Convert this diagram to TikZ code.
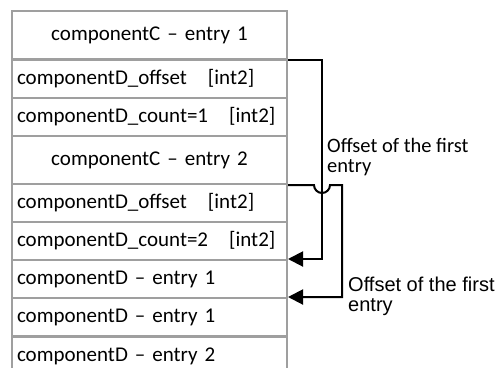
\documentclass[tikz,border=0pt]{standalone}
\usepackage{fontspec}
\setmainfont{Carlito}
\newfontfamily\arialfont{Liberation Sans}
\usetikzlibrary{arrows.meta}

\begin{document}
\begin{tikzpicture}[x=1bp,y=-1bp,
    font=\fontsize{21bp}{21bp}\selectfont,
    cell/.style={draw=gray!75, line width=2bp, anchor=north west,
        minimum width=275bp, inner xsep=5bp, text width=265bp},
    rowleft/.style={cell, align=left, minimum height=38bp},
    rowmid/.style={cell, align=center, minimum height=48bp},
    link/.style={line width=2bp, -{Triangle[length=15bp,width=15bp]}},
    note/.style={anchor=west, align=left, inner sep=0pt}]
\clip (0,0) rectangle (501,367);
\fill[white] (0,0) rectangle (501,367);

% Table rows
\node[rowmid] (c1) at (11,10) {componentC -- entry 1};
\node[rowleft] (c1off) at (11,59) {componentD\_offset\ \ \ [int2]};
\node[rowleft] (c1cnt) at (11,97) {componentD\_count=1\ \ \ [int2]};
\node[rowmid] (c2) at (11,135) {componentC -- entry 2};
\node[rowleft] (c2off) at (11,183) {componentD\_offset\ \ \ [int2]};
\node[rowleft] (c2cnt) at (11,221) {componentD\_count=2\ \ \ [int2]};
\node[rowleft] (d1) at (11,259) {componentD -- entry 1};
\node[rowleft] (d2) at (11,297) {componentD -- entry 1};
\node[rowleft] (d3) at (11,336) {componentD -- entry 2};

% Labels
\node[note, font=\fontsize{20.5bp}{20bp}\selectfont] (lbl1) at (327,157) {Offset of the first\\entry};
\node[note, font=\arialfont\fontsize{20bp}{20bp}\selectfont] (lbl2) at (348,296) {Offset of the first\\entry};

% Offsets
\draw[link] (c1.south east) -- ++(34,0) |- (d1.north east);
\draw[link] (c2.south east) -- ++(26,0) arc[start angle=180,end angle=0,radius=8]
    -- ++(12,0) |- (d2.north east);
\end{tikzpicture}
\end{document}
